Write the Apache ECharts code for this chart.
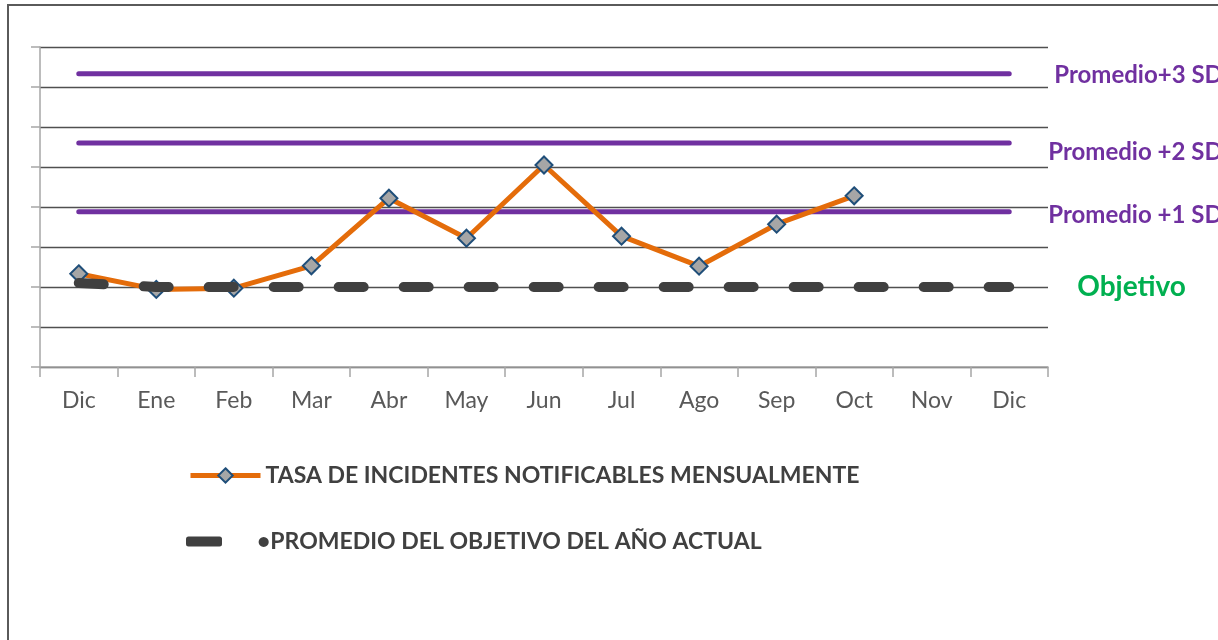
<!DOCTYPE html>
<html>
<head>
<meta charset="utf-8">
<script src="https://cdn.jsdelivr.net/npm/echarts@6/dist/echarts.min.js"></script>
<style>html,body{margin:0;padding:0;background:#fff;}#c{width:1218px;height:640px;}</style>
</head>
<body>
<div id="c"></div>
<script>
const categories = ['Dic','Ene','Feb','Mar','Abr','May','Jun','Jul','Ago','Sep','Oct','Nov','Dic'];
const tasa = [2.33, 1.94, 1.97, 2.53, 4.22, 3.22, 5.05, 3.27, 2.52, 3.57, 4.28, null, null];
const objetivo = [2.1, 2, 2, 2, 2, 2, 2, 2, 2, 2, 2, 2, 2];
const sd1 = [3.88, 3.88, 3.88, 3.88, 3.88, 3.88, 3.88, 3.88, 3.88, 3.88, 3.88, 3.88, 3.88];
const sd2 = [5.6, 5.6, 5.6, 5.6, 5.6, 5.6, 5.6, 5.6, 5.6, 5.6, 5.6, 5.6, 5.6];
const sd3 = [7.33, 7.33, 7.33, 7.33, 7.33, 7.33, 7.33, 7.33, 7.33, 7.33, 7.33, 7.33, 7.33];
const yTicks = {min: 0, max: 8, interval: 1};
const names = {
  tasa: 'TASA DE INCIDENTES NOTIFICABLES MENSUALMENTE',
  obj: 'PROMEDIO DEL OBJETIVO DEL AÑO ACTUAL',
  sd1: 'Promedio +1 SD',
  sd2: 'Promedio +2 SD',
  sd3: 'Promedio+3 SD',
  objLabel: 'Objetivo'
};

const FONT = 'Lato, "Open Sans", sans-serif';
const PURPLE = '#7030A0';

function purpleLine(name, data, dist, dy) {
  return {
    name: name, type: 'line', data: data, showSymbol: false, symbol: 'none',
    lineStyle: {color: PURPLE, width: 5, cap: 'round'},
    itemStyle: {color: PURPLE},
    z: 2,
    endLabel: {show: true, formatter: name, color: PURPLE, fontWeight: 'bold',
      fontSize: 24, fontFamily: FONT, distance: dist, offset: [0, dy]},
    emphasis: {disabled: true}
  };
}

const chart = echarts.init(document.getElementById('c'));
chart.setOption({
  animation: false,
  backgroundColor: '#fff',
  graphic: [{
    type: 'rect', shape: {x: 8, y: 5, width: 1400, height: 800},
    style: {fill: 'none', stroke: '#5a5a5a', lineWidth: 2}, z: -1, silent: true
  }],
  grid: {left: 40, top: 47, right: 170, bottom: 273},
  legend: [{
    data: [names.tasa], left: 188, top: 464, padding: 0, itemWidth: 70, itemHeight: 18, itemGap: 0,
    lineStyle: {width: 5, color: '#E46C0A'},
    textStyle: {fontFamily: FONT, fontWeight: 'bold', fontSize: 23, color: '#404040'}
  }, {
    data: [{name: names.obj, icon: 'roundRect'}], left: 186, top: 530, padding: 0, itemWidth: 36, itemHeight: 10,
    formatter: function (n) { return '{d|•}' + n; },
    textStyle: {fontFamily: FONT, fontWeight: 'bold', fontSize: 23, color: '#404040',
      rich: {d: {fontSize: 23, color: '#404040', padding: [0, 0, 0, 30], fontFamily: FONT}}}
  }],
  xAxis: {
    type: 'category', data: categories, boundaryGap: true,
    axisLine: {lineStyle: {color: '#a6a6a6', width: 1.5}},
    axisTick: {show: true, interval: 0, length: 10, lineStyle: {color: '#a6a6a6', width: 1.5}},
    axisLabel: {fontFamily: FONT, fontSize: 23, color: '#595959', margin: 22, interval: 0}
  },
  yAxis: {
    type: 'value', min: yTicks.min, max: yTicks.max, interval: yTicks.interval,
    axisLine: {show: true, lineStyle: {color: '#a6a6a6', width: 1.5}},
    axisTick: {show: true, length: 9, lineStyle: {color: '#a6a6a6', width: 1.5}},
    axisLabel: {show: false},
    splitLine: {show: true, lineStyle: {color: '#505050', width: 1.3}}
  },
  series: [
    purpleLine(names.sd3, sd3, 45, 1),
    purpleLine(names.sd2, sd2, 39, 9),
    purpleLine(names.sd1, sd1, 39, 3),
    {
      name: names.tasa, type: 'line', data: tasa, z: 3,
      symbol: 'diamond', symbolSize: 17, showSymbol: true,
      lineStyle: {color: '#E46C0A', width: 5},
      itemStyle: {color: '#A6A6A6', borderColor: '#1F4E79', borderWidth: 2},
      emphasis: {disabled: true}
    },
    {
      name: names.obj, type: 'line', data: objetivo, z: 4,
      symbol: 'none', showSymbol: false,
      lineStyle: {color: '#404040', width: 10, type: [25, 40], cap: 'round'},
      itemStyle: {color: '#404040'},
      endLabel: {show: true, formatter: names.objLabel, color: '#00B050', fontWeight: 'bold',
        fontSize: 28, fontFamily: FONT, distance: 68, offset: [0, 0]},
      emphasis: {disabled: true}
    }
  ]
});
</script>
</body>
</html>
